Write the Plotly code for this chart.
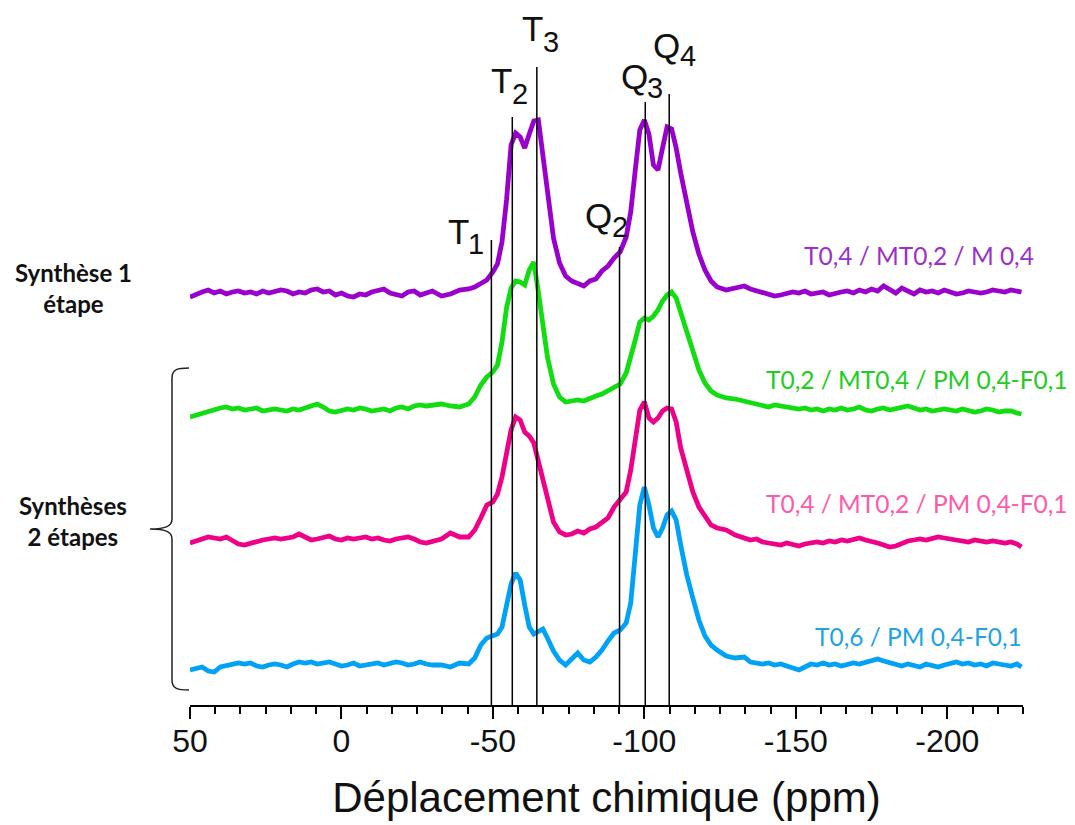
import plotly.graph_objects as go

# ---------------- data ----------------
ppm_left = [50, 48, 46, 44, 42, 40, 38, 36, 34, 32, 30, 28, 26, 24, 22, 20, 18, 16, 14, 12,
            10, 8, 6, 4, 2, 0, -2, -4, -6, -8, -10, -12, -14, -16, -18, -20, -22, -24, -26,
            -28, -30]
ppm_mid = [-33, -36, -39, -42, -44, -46, -48, -50, -51.5, -53, -54.5, -56, -57.5, -59, -60.5,
           -62, -63.5, -65, -66.5, -68, -70, -72, -74, -76, -78, -80, -82, -84, -86, -88, -90,
           -92, -94, -95.5, -97, -98.5, -100, -101.5, -103, -104.5, -106, -107.5, -109, -110.5,
           -112, -114, -116, -118, -120, -122, -124, -127, -130, -133]
ppm_right = [-135, -137, -139, -141, -143, -145, -147, -149, -151, -153, -155, -157, -159,
             -161, -163, -165, -167, -169, -171, -173, -175, -177, -179, -181, -183, -185,
             -187, -189, -191, -193, -195, -197, -199, -201, -203, -205, -207, -209, -211,
             -213, -215, -217, -219, -221, -223, -224.5]
ppm = ppm_left + ppm_mid + ppm_right

purple = ([-4, -1, 1, 3, 0, 2, -1, 1, 2, 0, 1, -1, 2, 0, 1, 3, 2, -1, 1, 0, 3, 4, 1, 2, -2,
           0, -3, -4, -1, -2, 1, 3, 4, 0, -1, -3, 1, 2, -2, 0, 2] +
          [-3, -1, 3, 4, 6, 9, 13, 21, 29, 51, 93, 148, 160, 156, 145, 159, 172, 173, 139, 98,
           55, 30, 17, 12, 9, 7, 12, 14, 22, 27, 35, 41, 56, 81, 123, 163, 173, 159, 128, 123,
           145, 166, 164, 145, 120, 88, 61, 39, 23, 12, 6, 3, 5, 7] +
          [4, 2, 1, -1, -3, -2, 0, 1, 0, 2, -1, 0, 1, -2, 0, 1, 2, 0, 3, 1, 4, 2, 7, 3, 0, 5,
           2, -1, 3, 1, 2, 0, 3, 1, -1, 0, 2, 1, 0, 1, 3, 2, 1, 3, 2, 1])

green = ([-7, -5, -3, -1, 0, 2, 3, 1, 2, 0, 1, 2, -1, 0, 1, 0, -1, 1, 0, 2, 4, 6, 3, -1, -2,
          -1, 1, 0, 2, 1, -1, 0, 1, -1, 2, 3, 1, 4, 5, 4, 5] +
         [6, 4, 3, 6, 13, 25, 33, 38, 45, 68, 102, 122, 129, 128, 125, 140, 148, 118, 83, 53,
          26, 13, 8, 9, 10, 9, 12, 14, 16, 19, 22, 26, 37, 52, 70, 88, 92, 90, 94, 100,
          109, 115, 118, 112, 98, 80, 58, 40, 27, 19, 15, 12, 11, 9] +
         [7, 6, 4, 3, 5, 4, 3, 2, 1, 2, 0, 1, -1, 1, 0, 2, 0, 1, 3, 0, -1, 1, 2, 0, 1, 3, 4,
          2, 0, 1, -1, 0, 1, 0, -1, 1, 0, -2, -1, 1, 0, -2, -1, -1, -3, -4])

pink = ([-3, -1, 1, 3, 2, 1, 3, -1, -4, -5, -3, -2, 0, 1, 2, 1, 2, 3, 6, 3, 0, 1, 2, 4, 1,
         0, 2, 1, 2, 3, 1, 2, 0, -1, 1, 2, 3, 1, -2, -3, -1] +
        [1, 7, 3, 3, 10, 22, 35, 38, 46, 63, 90, 110, 123, 120, 108, 104, 97, 78, 61, 42,
         18, 8, 5, 6, 9, 7, 11, 13, 17, 22, 33, 40, 48, 70, 102, 130, 138, 122, 118, 122,
         129, 132, 131, 118, 92, 68, 48, 33, 23, 15, 12, 10, 5, 2] +
        [0, 1, -2, -3, -4, -5, -3, -4, -6, -4, -3, -2, -3, -1, -2, 0, -1, 1, 2, 0, -1, -3, -5,
         -7, -6, -3, -1, 0, 1, 0, 2, 3, 2, 1, 0, -1, -2, 0, -1, -2, -1, -2, -3, -2, -4, -7])

blue = ([-5, -3, -2, -6, -7, -2, -1, 0, 2, 1, 2, -1, -2, 0, 1, 0, -2, 1, 3, 2, 3, 1, 2, 3, 1,
         -1, 0, 2, -1, 0, 1, 2, 0, 1, 3, 2, 0, 1, 3, 1, 0] +
        [0, -2, 2, 1, 7, 20, 27, 29, 31, 38, 60, 81, 92, 85, 60, 38, 31, 33, 36, 27,
         14, 5, 0, 6, 12, 5, 3, 8, 15, 24, 32, 35, 42, 62, 110, 160, 178, 160, 137, 128,
         137, 150, 154, 145, 120, 90, 67, 45, 29, 20, 15, 9, 7, 8] +
        [3, 2, 1, 2, 0, 1, -1, -3, -5, -2, 1, 0, 2, 0, 1, -1, 0, 2, 1, 3, 5, 6, 4, 2, 0, -1,
         1, 0, -2, 1, -1, -2, 0, 2, 3, 1, 2, 0, 1, -1, 2, 1, 0, -1, 1, -2])

series_names = ["T0,4 / MT0,2 / M 0,4", "T0,2 / MT0,4 / PM 0,4-F0,1",
                "T0,4 / MT0,2 / PM 0,4-F0,1", "T0,6 / PM 0,4-F0,1"]
series_values = [purple, green, pink, blue]
series_offsets = [412, 295, 165, 40]

peak_names = ["T", "T", "T", "Q", "Q", "Q"]
peak_subs = ["1", "2", "3", "2", "3", "4"]
peak_ppm = [-49.5, -56.4, -64.5, -91.8, -100.3, -108.2]
peak_line_top = [465, 588, 638, 458, 603, 611]

tick_vals = [50, 0, -50, -100, -150, -200]
tick_text = ["50", "0", "-50", "-100", "-150", "-200"]

# ---------------- styles / layout ----------------
line_colors = ["#9900CC", "#11DD11", "#EE0088", "#00A2F5"]
label_colors = ["#9B30C8", "#22CC22", "#FF5AAA", "#1EA2E6"]

W, H = 1075, 825
OFF = 8  # page body margin
ML, MR, MT, MB = 182, 60, 12, 128
PW, PH = W - ML - MR, H - MT - MB


def px(x):
    return (x - OFF - ML) / PW


def py(y):
    return (H - MB - (y - OFF)) / PH


fig = go.Figure()
for vals, off, col in zip(series_values, series_offsets, line_colors):
    fig.add_trace(go.Scatter(x=ppm, y=[v + off for v in vals], mode="lines",
                             line=dict(color=col, width=4.8), showlegend=False,
                             hoverinfo="skip"))

shapes = []
for p, top in zip(peak_ppm, peak_line_top):
    shapes.append(dict(type="line", xref="x", yref="y", x0=p, x1=p, y0=0, y1=top,
                       line=dict(color="black", width=1.5)))


def P(x, y):
    return f"{px(x):.5f},{py(y):.5f}"


brace = ("M " + P(189, 368) + " C " + P(178, 368) + " " + P(172, 369) + " " + P(172, 378) +
         " L " + P(172, 519) + " C " + P(172, 526) + " " + P(166, 529) + " " + P(150, 529) +
         " C " + P(166, 529) + " " + P(172, 532) + " " + P(172, 539) +
         " L " + P(172, 680) + " C " + P(172, 689) + " " + P(178, 690) + " " + P(189, 690))
shapes.append(dict(type="path", xref="paper", yref="paper", path=brace,
                   line=dict(color="#222222", width=1.5)))

annotations = []
letter_pos = [(458.5, 231.5), (501, 80), (532.5, 28), (598, 215), (634, 76.5), (666, 45.5)]
sub_pos = [(476, 244), (519.5, 94), (550.5, 42), (620, 227), (655, 88), (687.5, 56)]
for name, sub, (lx, ly), (sx, sy) in zip(peak_names, peak_subs, letter_pos, sub_pos):
    annotations.append(dict(text=name, x=px(lx), y=py(ly), xref="paper", yref="paper",
                            showarrow=False, xanchor="center", yanchor="middle",
                            font=dict(family="Liberation Sans", size=35, color="#111111")))
    annotations.append(dict(text=sub, x=px(sx), y=py(sy), xref="paper", yref="paper",
                            showarrow=False, xanchor="center", yanchor="middle",
                            font=dict(family="Liberation Sans", size=29, color="#111111")))

label_pos = [(919, 256), (917, 379), (917, 503), (918, 636)]
for name, col, (lx, ly) in zip(series_names, label_colors, label_pos):
    annotations.append(dict(text=name, x=px(lx), y=py(ly), xref="paper", yref="paper",
                            showarrow=False, xanchor="center", yanchor="middle",
                            font=dict(family="Lato", size=24.5, color=col)))

annotations.append(dict(text="<b>Synthèse 1</b><br><b>étape</b>", x=px(73), y=py(288),
                        xref="paper", yref="paper", showarrow=False, xanchor="center",
                        yanchor="middle", align="center",
                        font=dict(family="Lato", size=24, color="#111111")))
annotations.append(dict(text="<b>Synthèses</b><br><b>2 étapes</b>", x=px(73), y=py(521),
                        xref="paper", yref="paper", showarrow=False, xanchor="center",
                        yanchor="middle", align="center",
                        font=dict(family="Lato", size=24, color="#111111")))

fig.update_layout(
    width=W, height=H,
    margin=dict(l=ML, r=MR, t=MT, b=MB),
    paper_bgcolor="white", plot_bgcolor="white",
    shapes=shapes, annotations=annotations,
    xaxis=dict(range=[50, -225], showgrid=False, zeroline=False,
               showline=True, linecolor="black", linewidth=1.5,
               ticks="outside", ticklen=12, tickwidth=1.5, tickcolor="black",
               tickmode="array", tickvals=tick_vals, ticktext=tick_text,
               ticklabelstandoff=-5,
               tickfont=dict(family="Liberation Sans", size=32, color="#111111"),
               minor=dict(tickmode="linear", tick0=50, dtick=50 / 6, ticks="outside",
                          ticklen=7, tickwidth=1.5, tickcolor="black", showgrid=False),
               title=dict(text="Déplacement chimique (ppm)", standoff=24,
                          font=dict(family="Liberation Sans", size=42, color="#111111"))),
    yaxis=dict(range=[0, PH], visible=False, showgrid=False, zeroline=False),
)

fig.write_html("out.html")
